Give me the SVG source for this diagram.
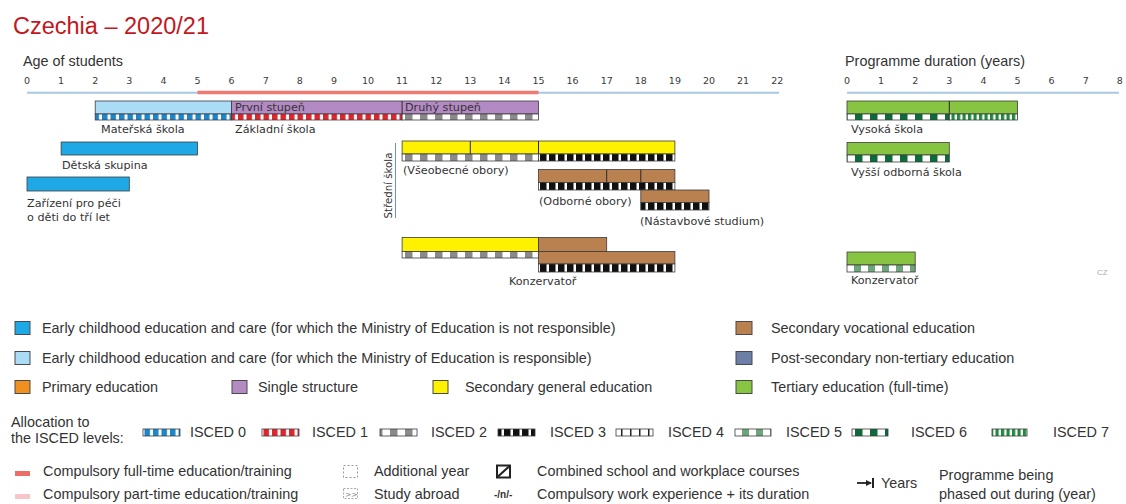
<svg xmlns="http://www.w3.org/2000/svg" width="1126" height="504" viewBox="0 0 1126 504">
<defs>
<style>
.t{font-family:"Liberation Sans",Arial,sans-serif;font-size:23.5px;fill:#c4161c}
.lg{font-family:"Liberation Sans",Arial,sans-serif;font-size:14.4px;fill:#333}
.ax{font-family:"DejaVu Sans",Verdana,sans-serif;font-size:9.5px;fill:#3a3a3a;text-anchor:middle}
.lb{font-family:"DejaVu Sans",Verdana,sans-serif;font-size:11.2px;fill:#333}
.bar{stroke:#3c3c3c;stroke-width:.8}
.st{stroke:#3c3c3c;stroke-width:.8}
.dv{stroke:#2a2a2a;stroke-width:1}
.sw{stroke:#4a4a4a;stroke-width:1}
.ecec1{fill:#1ea9e6}
.ecec2{fill:#aadcf5}
.single{fill:#b48ac4}
.gen{fill:#fff200}
.voc{fill:#b98050}
.ter{fill:#86c442}
</style>
<!-- ISCED level strips -->
<pattern id="i0" patternUnits="userSpaceOnUse" width="8.5" height="10"><rect width="8.5" height="10" fill="#fff"/><rect width="5.5" height="10" fill="#1c86cb"/></pattern>
<pattern id="i1" patternUnits="userSpaceOnUse" width="8.5" height="10"><rect width="8.5" height="10" fill="#fff"/><rect width="5.5" height="10" fill="#e1232b"/></pattern>
<pattern id="i2" patternUnits="userSpaceOnUse" width="15" height="10"><rect width="15" height="10" fill="#fff"/><rect width="7.5" height="10" fill="#8a8a8a"/></pattern>
<pattern id="i3" patternUnits="userSpaceOnUse" width="9" height="10"><rect width="9" height="10" fill="#fff"/><rect width="6.5" height="10" fill="#111"/></pattern>
<pattern id="i4" patternUnits="userSpaceOnUse" width="9" height="10"><rect width="9" height="10" fill="#fff"/><rect width="1.5" height="10" fill="#222"/></pattern>
<pattern id="i5" patternUnits="userSpaceOnUse" width="14" height="10"><rect width="14" height="10" fill="#fff"/><rect width="7" height="10" fill="#6ea47c"/></pattern>
<pattern id="i6" patternUnits="userSpaceOnUse" width="15" height="10"><rect width="15" height="10" fill="#fff"/><rect width="7.5" height="10" fill="#0d6a3b"/></pattern>
<pattern id="i7" patternUnits="userSpaceOnUse" width="5.5" height="10"><rect width="5.5" height="10" fill="#fff"/><rect width="3.2" height="10" fill="#1e8a3c"/></pattern>
<marker id="arr" markerWidth="6" markerHeight="6" refX="5" refY="3" orient="auto" markerUnits="userSpaceOnUse"><path d="M0,0 L6,3 L0,6 z" fill="#222"/></marker>
</defs>
<rect width="1126" height="504" fill="#fff"/>

<text class="t" x="13" y="34">Czechia – 2020/21</text>

<!-- age axis -->
<g id="age-axis">
<text class="lg" x="23" y="66">Age of students</text>
<line x1="27" y1="92.8" x2="779" y2="92.8" stroke="#a9c8e4" stroke-width="2"/>
<line x1="197.5" y1="92.5" x2="538.5" y2="92.5" stroke="#ef7a72" stroke-width="3.4"/>
<g class="ax">
<text x="27" y="84">0</text><text x="61.1" y="84">1</text><text x="95.2" y="84">2</text><text x="129.3" y="84">3</text>
<text x="163.4" y="84">4</text><text x="197.5" y="84">5</text><text x="231.6" y="84">6</text><text x="265.7" y="84">7</text>
<text x="299.8" y="84">8</text><text x="333.9" y="84">9</text><text x="368" y="84">10</text><text x="402.1" y="84">11</text>
<text x="436.2" y="84">12</text><text x="470.3" y="84">13</text><text x="504.4" y="84">14</text><text x="538.5" y="84">15</text>
<text x="572.6" y="84">16</text><text x="606.7" y="84">17</text><text x="640.8" y="84">18</text><text x="674.9" y="84">19</text>
<text x="709" y="84">20</text><text x="743.1" y="84">21</text><text x="777.2" y="84">22</text>
</g>
</g>

<!-- programme duration axis -->
<g id="duration-axis">
<text class="lg" x="845" y="66">Programme duration (years)</text>
<line x1="847" y1="92.8" x2="1119" y2="92.8" stroke="#a9c8e4" stroke-width="2"/>
<g class="ax">
<text x="847" y="84">0</text><text x="881.1" y="84">1</text><text x="915.2" y="84">2</text><text x="949.3" y="84">3</text>
<text x="983.4" y="84">4</text><text x="1017.5" y="84">5</text><text x="1051.6" y="84">6</text><text x="1085.7" y="84">7</text>
<text x="1119.8" y="84">8</text>
</g>
</g>

<!-- Mateřská škola -->
<g id="materska-skola">
<rect class="bar ecec2" x="95.2" y="101" width="136.4" height="13"/>
<rect class="st" x="95.2" y="114" width="136.4" height="6" fill="url(#i0)"/>
<text class="lb" x="101" y="132.5">Mateřská škola</text>
</g>

<!-- Základní škola -->
<g id="zakladni-skola">
<rect class="bar single" x="231.6" y="101" width="306.9" height="13"/>
<line class="dv" x1="402.1" y1="101" x2="402.1" y2="114"/>
<rect class="st" x="231.6" y="114" width="170.5" height="6" fill="url(#i1)"/>
<rect class="st" x="402.1" y="114" width="136.4" height="6" fill="url(#i2)"/>
<text class="lb" x="235" y="111" fill="#3a1d48">První stupeň</text>
<text class="lb" x="405" y="111" fill="#3a1d48">Druhý stupeň</text>
<text class="lb" x="235" y="132.5">Základní škola</text>
</g>

<!-- Dětská skupina -->
<g id="detska-skupina">
<rect class="bar ecec1" x="61.1" y="142" width="136.4" height="13"/>
<text class="lb" x="62" y="169">Dětská skupina</text>
</g>

<!-- Zařízení pro péči o děti do tří let -->
<g id="zarizeni">
<rect class="bar ecec1" x="27" y="177" width="102.3" height="14"/>
<text class="lb" x="27" y="206.5">Zařízení pro péči</text>
<text class="lb" x="27" y="220.5">o děti do tří let</text>
</g>

<!-- Střední škola bracket -->
<g id="stredni-skola">
<text class="lb" font-size="10.2" style="font-size:10.2px" transform="translate(392,185.5) rotate(-90)" text-anchor="middle">Střední škola</text>
<line x1="395.5" y1="143" x2="395.5" y2="218" stroke="#6f8fc0" stroke-width="1"/>
</g>

<!-- Všeobecné obory -->
<g id="vseobecne-obory">
<rect class="bar gen" x="402.1" y="141" width="272.8" height="13"/>
<line class="dv" x1="470.3" y1="141" x2="470.3" y2="154"/>
<line class="dv" x1="538.5" y1="141" x2="538.5" y2="154"/>
<rect class="st" x="402.1" y="154" width="136.4" height="7" fill="url(#i2)"/>
<rect class="st" x="538.5" y="154" width="136.4" height="7" fill="url(#i3)"/>
<text class="lb" x="403" y="173.5">(Všeobecné obory)</text>
</g>

<!-- Odborné obory -->
<g id="odborne-obory">
<rect class="bar voc" x="538.5" y="169.5" width="136.4" height="13"/>
<line class="dv" x1="606.7" y1="169.5" x2="606.7" y2="182.5"/>
<line class="dv" x1="640.8" y1="169.5" x2="640.8" y2="182.5"/>
<rect class="st" x="538.5" y="182.5" width="136.4" height="7.5" fill="url(#i3)"/>
<text class="lb" x="539" y="204.5">(Odborné obory)</text>
</g>

<!-- Nástavbové studium -->
<g id="nastavbove-studium">
<rect class="bar voc" x="640.8" y="190" width="68.2" height="12.5"/>
<rect class="st" x="640.8" y="202.5" width="68.2" height="7.5" fill="url(#i3)"/>
<text class="lb" x="640" y="224.5">(Nástavbové studium)</text>
</g>

<!-- Konzervatoř (secondary) -->
<g id="konzervator-sec">
<rect class="bar gen" x="402.1" y="237.5" width="136.4" height="14"/>
<rect class="st" x="402.1" y="251.5" width="136.4" height="6.5" fill="url(#i2)"/>
<rect class="bar voc" x="538.5" y="237.5" width="68.2" height="14"/>
<rect class="bar voc" x="538.5" y="251.5" width="136.4" height="12.5"/>
<rect class="st" x="538.5" y="264" width="136.4" height="8" fill="url(#i3)"/>
<text class="lb" x="509" y="284.5">Konzervatoř</text>
</g>

<!-- Vysoká škola -->
<g id="vysoka-skola">
<rect class="bar ter" x="847" y="101" width="170.5" height="13"/>
<line class="dv" x1="949.3" y1="101" x2="949.3" y2="114"/>
<rect class="st" x="847" y="114" width="102.3" height="6" fill="url(#i6)"/>
<rect class="st" x="949.3" y="114" width="68.2" height="6" fill="url(#i7)"/>
<text class="lb" x="851" y="133">Vysoká škola</text>
</g>

<!-- Vyšší odborná škola -->
<g id="vyssi-odborna-skola">
<rect class="bar ter" x="847" y="142.5" width="102.3" height="12.5"/>
<rect class="st" x="847" y="155" width="102.3" height="7" fill="url(#i6)"/>
<text class="lb" x="851" y="175.5">Vyšší odborná škola</text>
</g>

<!-- Konzervatoř (tertiary) -->
<g id="konzervator-ter">
<rect class="bar ter" x="847" y="252" width="68.2" height="13"/>
<rect class="st" x="847" y="265" width="68.2" height="7" fill="url(#i5)"/>
<text class="lb" x="851" y="283.5">Konzervatoř</text>
</g>

<text x="1097" y="275" font-family="Liberation Sans, Arial, sans-serif" font-size="8" fill="#aaa">CZ</text>

<!-- legend: categories -->
<g id="legend-categories">
<rect class="sw ecec1" x="15" y="321.5" width="15" height="13"/>
<text class="lg" x="42" y="333">Early childhood education and care (for which the Ministry of Education is not responsible)</text>
<rect class="sw ecec2" x="15" y="351.5" width="15" height="13"/>
<text class="lg" x="42" y="363">Early childhood education and care (for which the Ministry of Education is responsible)</text>
<rect class="sw" x="15" y="380.5" width="15" height="13" fill="#f0901e"/>
<text class="lg" x="42" y="392">Primary education</text>
<rect class="sw single" x="232" y="380.5" width="15" height="13"/>
<text class="lg" x="258" y="392">Single structure</text>
<rect class="sw gen" x="433" y="380.5" width="15" height="13"/>
<text class="lg" x="465" y="392">Secondary general education</text>
<rect class="sw voc" x="736" y="321.5" width="16" height="13"/>
<text class="lg" x="771" y="333">Secondary vocational education</text>
<rect class="sw" x="736" y="351.5" width="16" height="13" fill="#6e7fa7"/>
<text class="lg" x="771" y="363">Post-secondary non-tertiary education</text>
<rect class="sw ter" x="736" y="380.5" width="16" height="13"/>
<text class="lg" x="771" y="392">Tertiary education (full-time)</text>
</g>

<!-- legend: ISCED levels -->
<g id="legend-isced">
<text class="lg" x="11" y="427">Allocation to</text>
<text class="lg" x="11" y="443">the ISCED levels:</text>
<rect class="st" x="143" y="429" width="37" height="7" fill="url(#i0)"/><text class="lg" x="190" y="437">ISCED 0</text>
<rect class="st" x="262" y="429" width="37" height="7" fill="url(#i1)"/><text class="lg" x="312" y="437">ISCED 1</text>
<rect class="st" x="380" y="429" width="37" height="7" fill="url(#i2)"/><text class="lg" x="431" y="437">ISCED 2</text>
<rect class="st" x="498" y="429" width="37" height="7" fill="url(#i3)"/><text class="lg" x="550" y="437">ISCED 3</text>
<rect class="st" x="616" y="429" width="37" height="7" fill="url(#i4)"/><text class="lg" x="668" y="437">ISCED 4</text>
<rect class="st" x="735" y="429" width="36" height="7" fill="url(#i5)"/><text class="lg" x="786" y="437">ISCED 5</text>
<rect class="st" x="852" y="429" width="36" height="7" fill="url(#i6)"/><text class="lg" x="911" y="437">ISCED 6</text>
<rect class="st" x="992" y="429" width="35" height="7" fill="url(#i7)"/><text class="lg" x="1053" y="437">ISCED 7</text>
</g>

<!-- legend: symbols -->
<g id="legend-symbols">
<rect x="15" y="471" width="15" height="5" fill="#ec6e67"/>
<text class="lg" x="43" y="476">Compulsory full-time education/training</text>
<rect x="15" y="494" width="15" height="5" fill="#f7c5c8"/>
<text class="lg" x="43" y="499">Compulsory part-time education/training</text>
<rect x="343.5" y="465.5" width="14" height="12" fill="none" stroke="#999" stroke-width="1" stroke-dasharray="2,2"/>
<text class="lg" x="374" y="476">Additional year</text>
<rect x="343.5" y="488.5" width="14" height="10" fill="none" stroke="#aaa" stroke-width="1" stroke-dasharray="2,1.5"/>
<text x="345" y="497" font-family="DejaVu Sans, sans-serif" font-size="7.5" fill="#888">&gt;&gt;</text>
<text class="lg" x="374" y="499">Study abroad</text>
<rect x="497" y="465.5" width="13" height="12" fill="#fff" stroke="#222" stroke-width="2"/>
<line x1="498" y1="476.5" x2="509" y2="466.5" stroke="#222" stroke-width="2.2"/>
<text class="lg" x="537" y="476">Combined school and workplace courses</text>
<text x="494" y="498" font-family="Liberation Sans, Arial, sans-serif" font-size="10" font-weight="bold" fill="#333">-/n/-</text>
<text class="lg" x="537" y="499">Compulsory work experience + its duration</text>
<line x1="857" y1="483" x2="871" y2="483" stroke="#222" stroke-width="1.8" marker-end="url(#arr)"/>
<line x1="873" y1="478" x2="873" y2="488" stroke="#222" stroke-width="2"/>
<text class="lg" x="881" y="488">Years</text>
<text class="lg" x="939" y="480">Programme being</text>
<text class="lg" x="939" y="499">phased out during (year)</text>
</g>
</svg>
